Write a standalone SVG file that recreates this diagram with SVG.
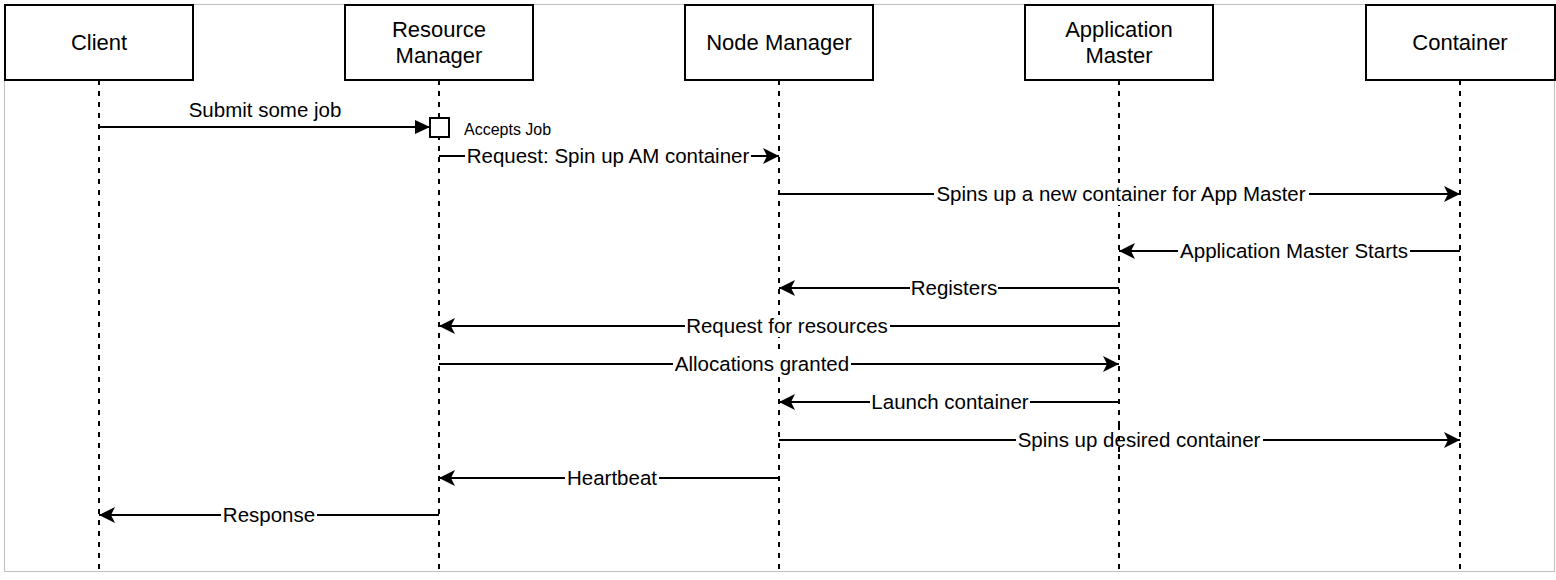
<svg xmlns="http://www.w3.org/2000/svg" width="1556" height="580" viewBox="0 0 1556 580">
<style>
.box{fill:#fff;stroke:#000;stroke-width:2}
.life{stroke:#000;stroke-width:2;stroke-dasharray:5 6;fill:none}
.msg{stroke:#000;stroke-width:2;fill:none}
.bt{font-family:"Liberation Sans",Arial,sans-serif;font-size:22px;text-anchor:middle;fill:#000}
.ml{font-family:"Liberation Sans",Arial,sans-serif;font-size:20.5px;text-anchor:middle;fill:#000}
.lbg{fill:#fff}
</style>
<defs>
<marker id="open" markerUnits="userSpaceOnUse" markerWidth="20" markerHeight="20" viewBox="-17 -10 20 20" refX="0" refY="0" orient="auto">
<path d="M0,0 L-16,-8 L-12,0 L-16,8 Z" fill="#000"/>
</marker>
<marker id="block" markerUnits="userSpaceOnUse" markerWidth="20" markerHeight="20" viewBox="-17 -10 20 20" refX="0" refY="0" orient="auto">
<path d="M0,0 L-15,-7 L-15,7 Z" fill="#000"/>
</marker>
</defs>
<rect x="4.5" y="4.5" width="1550" height="567" fill="#fff" stroke="#c0c0c0" stroke-width="1"/>
<g id="lifelines">
<line class="life" x1="99" y1="80" x2="99" y2="572"/>
<line class="life" x1="439" y1="80" x2="439" y2="572"/>
<line class="life" x1="779" y1="80" x2="779" y2="572"/>
<line class="life" x1="1119" y1="80" x2="1119" y2="572"/>
<line class="life" x1="1460" y1="80" x2="1460" y2="572"/>
</g>
<g id="client"><rect class="box" x="5" y="5" width="188" height="75"/><text class="bt" x="99" y="50">Client</text></g>
<g id="resource-manager"><rect class="box" x="345" y="5" width="188" height="75"/><text class="bt" x="439" y="37">Resource</text><text class="bt" x="439" y="63">Manager</text></g>
<g id="node-manager"><rect class="box" x="685" y="5" width="188" height="75"/><text class="bt" x="779" y="50">Node Manager</text></g>
<g id="application-master"><rect class="box" x="1025" y="5" width="188" height="75"/><text class="bt" x="1119" y="37">Application</text><text class="bt" x="1119" y="63">Master</text></g>
<g id="container"><rect class="box" x="1366" y="5" width="189" height="75"/><text class="bt" x="1460" y="50">Container</text></g>
<g id="activation"><rect x="430" y="118" width="19" height="19" fill="#fff" stroke="#000" stroke-width="2"/><text x="464" y="135" font-family="Liberation Sans, Arial, sans-serif" font-size="16">Accepts Job</text></g>
<g id="connectors">
<line class="msg" x1="99" y1="127" x2="430" y2="127" marker-end="url(#block)"/>
<text class="ml" x="265" y="117">Submit some job</text>

<line class="msg" x1="439" y1="156" x2="779" y2="156" marker-end="url(#open)"/>
<rect class="lbg" x="465" y="145" width="286" height="22"/>
<text class="ml" x="608" y="163">Request: Spin up AM container</text>

<line class="msg" x1="779" y1="194" x2="1460" y2="194" marker-end="url(#open)"/>
<rect class="lbg" x="934" y="183" width="375" height="22"/>
<text class="ml" x="1121" y="201">Spins up a new container for App Master</text>

<line class="msg" x1="1460" y1="251" x2="1119" y2="251" marker-end="url(#open)"/>
<rect class="lbg" x="1178" y="240" width="232" height="22"/>
<text class="ml" x="1294" y="258">Application Master Starts</text>

<line class="msg" x1="1119" y1="288" x2="779" y2="288" marker-end="url(#open)"/>
<rect class="lbg" x="910" y="277" width="88" height="22"/>
<text class="ml" x="954" y="295">Registers</text>

<line class="msg" x1="1119" y1="326" x2="439" y2="326" marker-end="url(#open)"/>
<rect class="lbg" x="685" y="315" width="205" height="22"/>
<text class="ml" x="787" y="333">Request for resources</text>

<line class="msg" x1="439" y1="364" x2="1119" y2="364" marker-end="url(#open)"/>
<rect class="lbg" x="673" y="353" width="178" height="22"/>
<text class="ml" x="762" y="371">Allocations granted</text>

<line class="msg" x1="1119" y1="402" x2="779" y2="402" marker-end="url(#open)"/>
<rect class="lbg" x="870" y="391" width="160" height="22"/>
<text class="ml" x="950" y="409">Launch container</text>

<line class="msg" x1="779" y1="440" x2="1460" y2="440" marker-end="url(#open)"/>
<rect class="lbg" x="1016" y="429" width="247" height="22"/>
<text class="ml" x="1139" y="447">Spins up desired container</text>

<line class="msg" x1="779" y1="478" x2="439" y2="478" marker-end="url(#open)"/>
<rect class="lbg" x="565" y="467" width="94" height="22"/>
<text class="ml" x="612" y="485">Heartbeat</text>

<line class="msg" x1="439" y1="515" x2="99" y2="515" marker-end="url(#open)"/>
<rect class="lbg" x="221" y="504" width="96" height="22"/>
<text class="ml" x="269" y="522">Response</text>
</g>
<line class="life" x1="1119" y1="425" x2="1119" y2="455"/>
</svg>
